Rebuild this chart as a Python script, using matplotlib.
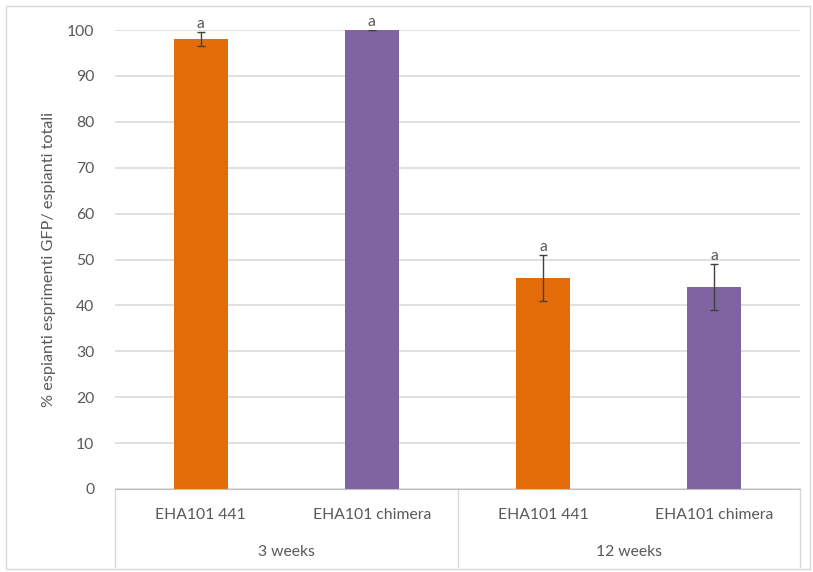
import matplotlib
matplotlib.use('Agg')
import matplotlib.pyplot as plt
from matplotlib.patches import Rectangle
from matplotlib.lines import Line2D

# data
strains = ['EHA101 441', 'EHA101 chimera', 'EHA101 441', 'EHA101 chimera']
groups = ['3 weeks', '12 weeks']
values = [98, 100, 46, 44]
errors = [1.5, 0, 5, 5]
letters = ['a', 'a', 'a', 'a']
colors = ['#E36C09', '#8064A2', '#E36C09', '#8064A2']

plt.rcParams['font.family'] = ['Lato', 'DejaVu Sans']
fs = 11.3
txt = '#595959'

fig = plt.figure(figsize=(8.13, 5.72), dpi=100)
ax = fig.add_axes([115 / 813, 1 - 489 / 572, 685 / 813, 459 / 572])

x = list(range(len(values)))
ax.bar(x, values, width=0.315, color=colors, zorder=2)
ax.errorbar(x, values, yerr=errors, fmt='none', ecolor='#404040',
            elinewidth=1, capsize=3, capthick=1, zorder=3)
for xi, v, e, lab in zip(x, values, errors, letters):
    ax.text(xi, v + e + 0.2, lab, ha='center', va='bottom',
            fontsize=fs, color=txt)

ax.set_xlim(-0.5, len(values) - 0.5)
ax.set_ylim(0, 100)
ax.set_yticks(range(0, 101, 10))
ax.yaxis.grid(True, color='#D9D9D9', linewidth=1.1)
ax.set_axisbelow(True)
ax.tick_params(axis='y', length=0, pad=15, labelsize=fs, labelcolor=txt)
ax.set_xticks([])
for s in ['left', 'right', 'top']:
    ax.spines[s].set_visible(False)
ax.spines['bottom'].set_color('#BFBFBF')

ax.set_ylabel('% espianti esprimenti GFP/ espianti totali', fontsize=fs + 0.4,
              color=txt, labelpad=8)

# two-level category axis
trans = ax.get_xaxis_transform()
for xi, lab in zip(x, strains):
    ax.text(xi, -26 / 459, lab, transform=trans, ha='center', va='center',
            fontsize=fs, color=txt, clip_on=False)
for gi, g in enumerate(groups):
    ax.text(gi * 2 + 0.5, -63 / 459, g, transform=trans, ha='center', va='center',
            fontsize=fs, color=txt, clip_on=False)
for xs in [-0.5, 1.5, 3.5]:
    ax.add_line(Line2D([xs, xs], [0, -78 / 459], transform=trans,
                       color='#D9D9D9', linewidth=1, clip_on=False))

# chart border
fig.add_artist(Rectangle((6 / 813, 3 / 572), 804 / 813, 563 / 572,
                         transform=fig.transFigure, fill=False,
                         edgecolor='#D9D9D9', linewidth=1))

fig.savefig('out.png', dpi=100)
